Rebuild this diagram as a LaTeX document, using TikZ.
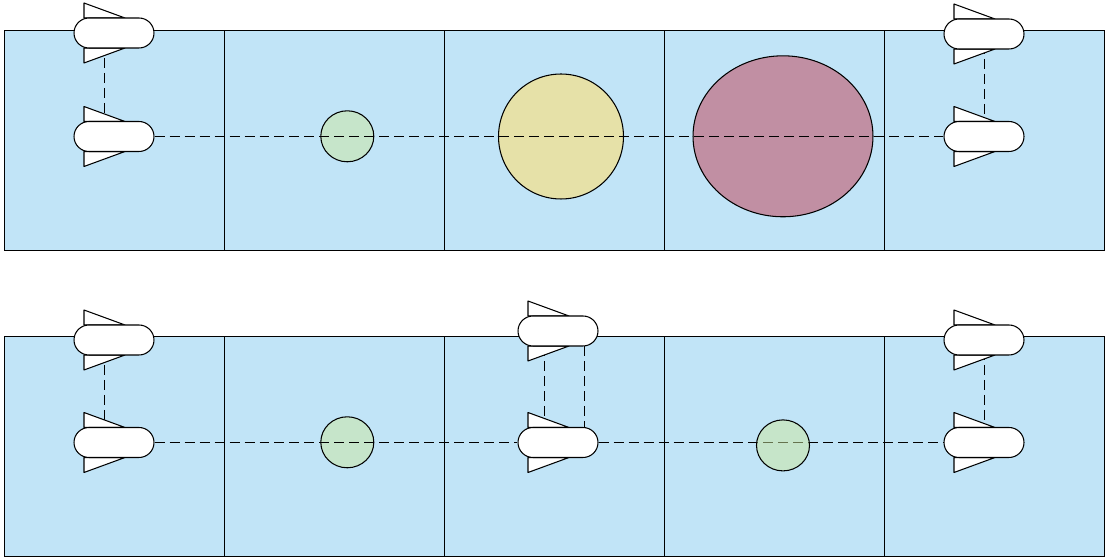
\documentclass[tikz,border=0pt]{standalone}
\usepackage{amsmath}
\usetikzlibrary{shapes.misc,shapes.geometric}

\definecolor{cellblue}{HTML}{C1E4F7}
\definecolor{smallgreen}{HTML}{C6E5CA}
\definecolor{glassgreen}{HTML}{CBE69D}
\definecolor{midyellow}{HTML}{E6E1A8}
\definecolor{bigmaroon}{HTML}{C18FA3}

\tikzset{
  cell/.style={draw=black, fill=cellblue},
  fin/.style={draw=black, fill=white, line join=round},
  body/.style={draw=black, fill=white, rounded rectangle, inner sep=0pt,
    minimum width=1.6cm, minimum height=0.6cm},
  blob/.style={draw=black, ellipse, inner sep=0pt},
  small/.style={blob, minimum width=1.06cm, minimum height=1.02cm},
  link/.style={draw=black, dash pattern=on 0.2cm off 0.1cm},
}

% one craft: two fins and a rounded body
\newcommand{\craft}[3]{
  \begin{scope}[shift={(#2,#3)}]
    \draw[fin] (-30,-30)--(-30,-15)--(11,-15)--cycle;
    \draw[fin] (-30,30)--(-30,15)--(11,15)--cycle;
    \node[body] (#1) at (0,0) {};
  \end{scope}
}

\begin{document}
\begin{tikzpicture}[x=0.02cm, y=-0.02cm, line width=0.6pt]
  \useasboundingbox (0,0) rectangle (1110,560);
  % cells
  \foreach \x in {4.5,224.5,444.5,664.5,884.5} {
    \draw[cell] (\x,30.5) rectangle ++(220,220);
    \draw[cell] (\x,336.5) rectangle ++(220,220);
  }
  % top row
  \node[small, fill=smallgreen] (topsmall) at (347.3,136.3) {};
  \node[blob, fill=midyellow, minimum width=2.5cm, minimum height=2.5cm] (topmid) at (561,136.5) {};
  \node[blob, fill=bigmaroon, minimum width=3.6cm, minimum height=3.22cm] (topbig) at (783,136.3) {};
  \coordinate (tl-a) at (104.5,43);
  \coordinate (tl-b) at (104.5,136);
  \coordinate (tr-a) at (984.5,44);
  \coordinate (tr-b) at (984.5,136);
  \draw[link] (tl-a)--(tl-b);
  \draw[link] (tr-a)--(tr-b);
  \craft{ta}{114}{33}
  \craft{tb}{114}{136.5}
  \craft{tc}{984}{34}
  \craft{td}{984}{136.5}
  \draw[link] (tb.east)--(td.west);
  % bottom row
  \node[small, fill=smallgreen] (botsmall) at (347.3,442.3) {};
  \coordinate (bl-a) at (104.5,350);
  \coordinate (bl-b) at (104.5,442);
  \coordinate (bm-a) at (544.5,346);
  \coordinate (bm-b) at (544.5,442);
  \coordinate (bn-a) at (584.5,346);
  \coordinate (bn-b) at (584.5,442);
  \coordinate (br-a) at (984.5,350);
  \coordinate (br-b) at (984.5,442);
  \draw[link] (bl-a)--(bl-b);
  \draw[link] (bm-a)--(bm-b);
  \draw[link] (bn-a)--(bn-b);
  \draw[link] (br-a)--(br-b);
  \craft{ba}{114}{340}
  \craft{bb}{114}{442.5}
  \craft{bc}{558}{331}
  \craft{bd}{558}{442.5}
  \craft{be}{984}{340}
  \craft{bf}{984}{442.5}
  \draw[link] (bb.east)--(bd.west);
  \draw[link] (bd.east)--(bf.west);
  % this one lies over the line
  \node[small, fill=glassgreen, fill opacity=0.5] (botright) at (783,445.4) {};
\end{tikzpicture}
\end{document}
